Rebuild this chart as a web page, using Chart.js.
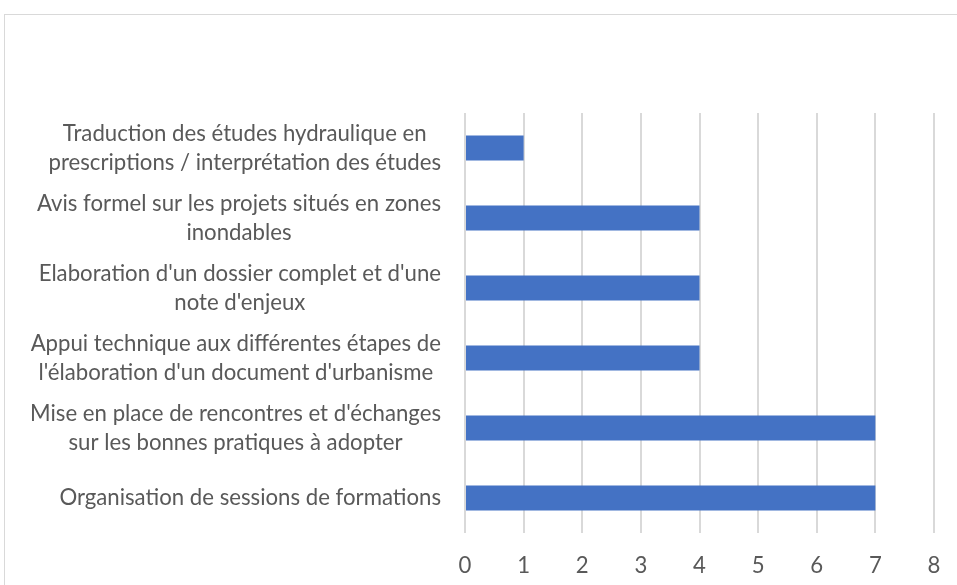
<!DOCTYPE html>
<html>
<head>
<meta charset="utf-8">
<script src="https://cdn.jsdelivr.net/npm/chart.js@4/dist/chart.umd.min.js"></script>
<style>
  html, body { margin: 0; padding: 0; background: #fff; overflow: hidden; }
  #frame { position: absolute; left: 4px; top: 14px; width: 1000px; height: 700px; border: 1px solid #d9d9d9; box-sizing: border-box; }
  #wrap { position: absolute; left: 0; top: 0; width: 957px; height: 585px; }
</style>
</head>
<body>
<div id="frame"></div>
<div id="wrap"><canvas id="chart"></canvas></div>
<script>
// categories, top to bottom as shown (each one split into its wrapped lines)
const categories = [
    ['Traduction des études hydraulique en', 'prescriptions / interprétation des études'],
    ['Avis formel sur les projets situés en zones', 'inondables'],
    ["Elaboration d'un dossier complet et d'une", "note d'enjeux"],
    ['Appui technique aux différentes étapes de', "l'élaboration d'un document d'urbanisme"],
    ["Mise en place de rencontres et d'échanges", 'sur les bonnes pratiques à adopter'],
    ['Organisation de sessions de formations']
];
const values = [1, 4, 4, 4, 7, 7];
const xTicks = ['0', '1', '2', '3', '4', '5', '6', '7', '8'];

const FONT = 'Lato';
const TEXT = '#595959';

// size the font so the longest single-line label has the same width as in the picture
function pickFontSize() {
    const c = document.createElement('canvas').getContext('2d');
    c.font = '20px ' + FONT;
    const w = c.measureText('Organisation de sessions de formations').width;
    return Math.round(20 * 381 / w * 10) / 10;
}
const fontSize = pickFontSize();

// y labels: each block right-aligned to the axis, lines centred inside the block
const yLabels = {
    id: 'yLabels',
    afterDraw(chart) {
        const ctx = chart.ctx;
        const y = chart.scales.y;
        const right = chart.chartArea.left - 24;
        ctx.save();
        ctx.font = fontSize + 'px ' + FONT;
        ctx.fillStyle = TEXT;
        ctx.textAlign = 'center';
        ctx.textBaseline = 'middle';
        categories.forEach(function (lines, i) {
            const yc = y.getPixelForValue(i);
            const w = Math.max.apply(null, lines.map(l => ctx.measureText(l).width));
            const xc = right - w / 2;
            lines.forEach(function (l, j) {
                ctx.fillText(l, xc, yc + (j - (lines.length - 1) / 2) * 29);
            });
        });
        ctx.restore();
    }
};

new Chart(document.getElementById('chart'), {
    type: 'bar',
    data: {
        labels: categories,
        datasets: [{
            data: values,
            backgroundColor: '#4472C4',
            barPercentage: 0.36,
            categoryPercentage: 1
        }]
    },
    options: {
        indexAxis: 'y',
        responsive: true,
        maintainAspectRatio: false,
        animation: false,
        layout: { padding: { left: 465, top: 113, right: 23, bottom: 8 } },
        plugins: {
            legend: { display: false },
            tooltip: { enabled: false }
        },
        scales: {
            x: {
                min: 0,
                max: 8,
                border: { display: false },
                grid: { color: '#d9d9d9', lineWidth: 2, drawTicks: false },
                ticks: {
                    stepSize: 1,
                    padding: 20,
                    maxRotation: 0,
                    color: TEXT,
                    font: { family: FONT, size: fontSize },
                    callback: (v, i) => xTicks[i]
                },
                afterFit: s => { s.height = 44; s.paddingLeft = 0; s.paddingRight = 0; }
            },
            y: {
                border: { display: false },
                grid: { display: false },
                ticks: { display: false },
                afterFit: s => { s.width = 0; }
            }
        }
    },
    plugins: [yLabels]
});
</script>
</body>
</html>
